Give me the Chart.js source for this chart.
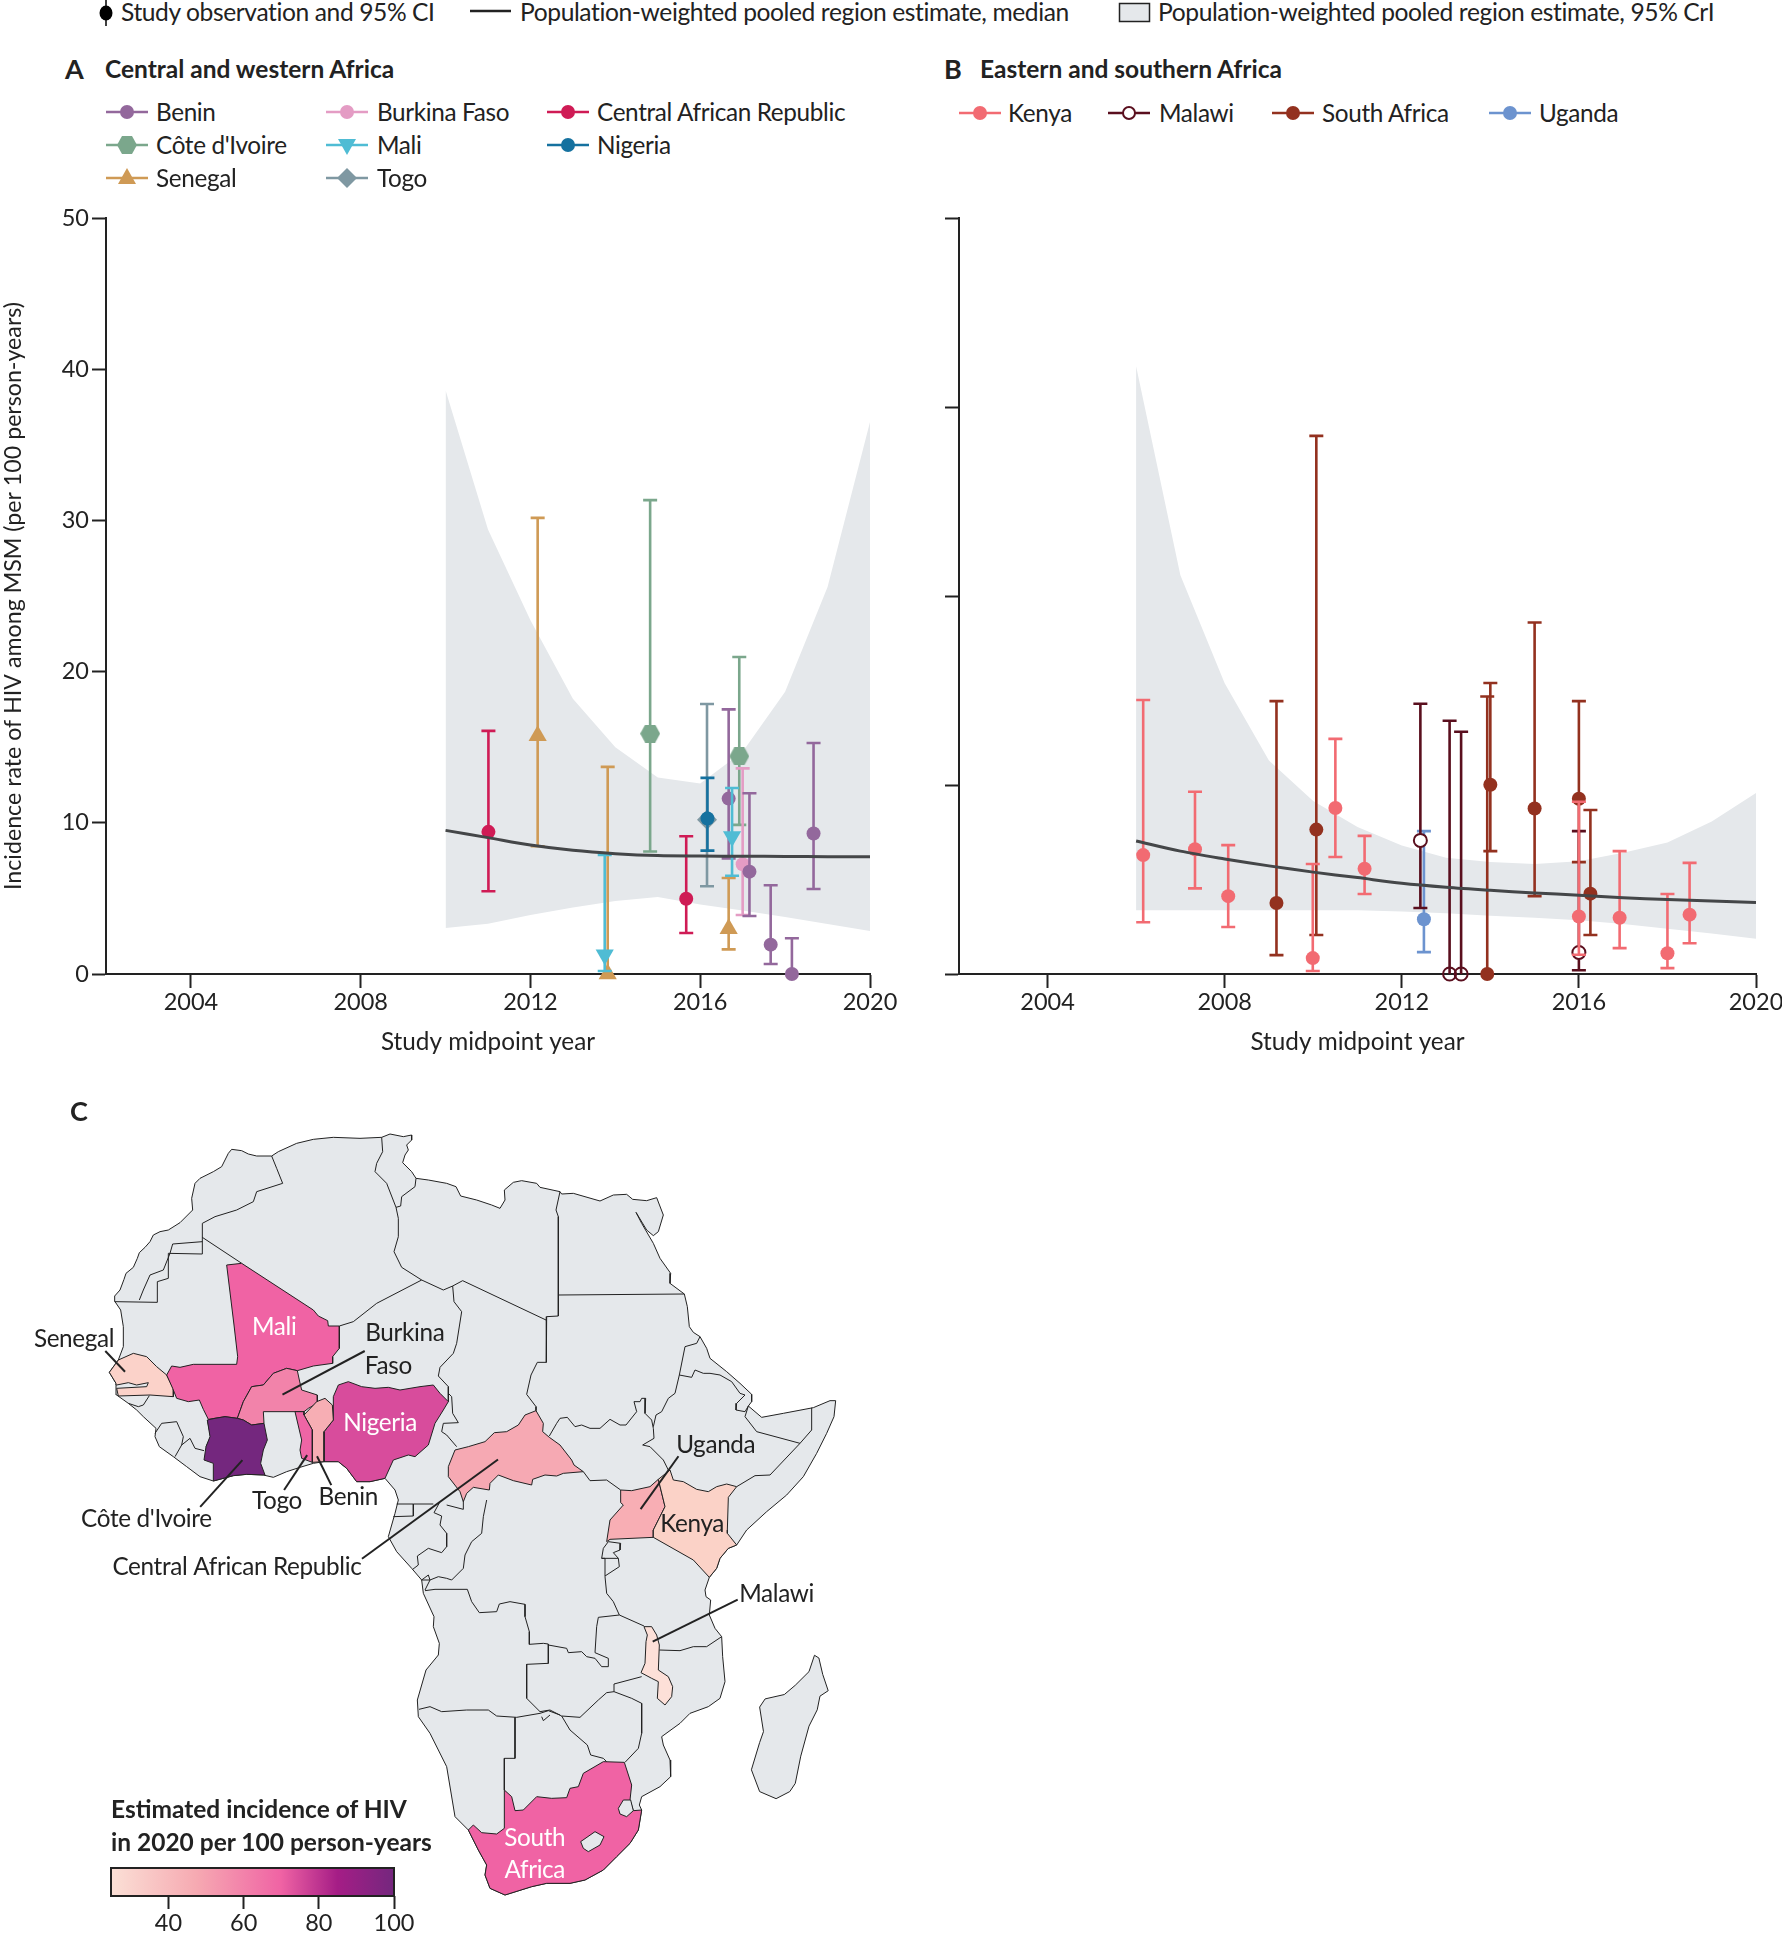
<!DOCTYPE html>
<html>
<head>
<meta charset="utf-8">
<title>HIV incidence among MSM in Africa</title>
<script src="https://cdn.jsdelivr.net/npm/chart.js@4"></script>
<style>
html, body { margin: 0; padding: 0; background: #fff; }
body { position: relative; width: 1782px; height: 1935px; overflow: hidden; font-family: Lato, sans-serif; color: #222; }
canvas { position: absolute; }
.t { position: absolute; white-space: nowrap; font-size: 24.3px; letter-spacing: -0.35px; transform: translateY(-50%); line-height: 1; }
.top { font-size: 24.6px; letter-spacing: -0.4px; }
.b { font-size: 24.5px; font-weight: 700; letter-spacing: 0; }
.p { font-size: 27px; font-weight: 700; letter-spacing: 0; }
svg { position: absolute; overflow: visible; }
</style>
</head>
<body>
<canvas id="chartA" width="910" height="867" style="left:0;top:190px"></canvas>
<canvas id="chartB" width="860" height="867" style="left:930px;top:190px"></canvas>
<canvas id="mapC" width="860" height="855" style="left:0;top:1080px"></canvas>
<canvas id="scaleC" width="340" height="72" style="left:80px;top:1865px"></canvas>
<script>
// rows are [midpoint year, incidence, CI low, CI high]
const benin = [[2016.67, 11.6, 7.65, 17.5], [2017.16, 6.77, 3.84, 11.95], [2017.66, 1.94, 0.66, 5.87], [2018.16, 0, 0, 2.36], [2018.67, 9.29, 5.62, 15.28]];
const burkinaFaso = [[2017.0, 7.26, 3.9, 13.6]];
const centralAfricanRepublic = [[2011.01, 9.4, 5.47, 16.08], [2015.67, 4.98, 2.71, 9.11]];
const coteDIvoire = [[2014.82, 15.9, 8.1, 31.34], [2016.92, 14.4, 9.86, 20.97]];
const mali = [[2013.75, 1.28, 0.2, 7.87], [2016.75, 9.1, 6.5, 12.3]];
const nigeria = [[2016.17, 10.28, 8.16, 12.97]];
const senegal = [[2012.17, 15.75, 8.45, 30.17], [2013.82, 0, 0, 13.7], [2016.67, 3.0, 1.63, 6.35]];
const togo = [[2016.16, 10.2, 5.8, 17.86]];

const kenya = [[2006.16, 6.29, 2.74, 14.5], [2007.33, 6.6, 4.53, 9.64], [2008.08, 4.12, 2.49, 6.82], [2009.99, 0.84, 0.16, 5.82], [2010.5, 8.78, 6.19, 12.44], [2011.16, 5.57, 4.23, 7.31], [2016, 3.04, 1.02, 9.11], [2016.92, 2.98, 1.37, 6.5], [2018.0, 1.1, 0.31, 4.23], [2018.5, 3.14, 1.63, 5.88]];
const malawi = [[2012.42, 7.07, 3.49, 14.3], [2013.08, 0, 0, 13.4], [2013.34, 0, 0, 12.82], [2016, 1.14, 0.2, 7.56]];
const southAfrica = [[2009.17, 3.76, 1.0, 14.44], [2010.07, 7.64, 2.06, 28.47], [2013.93, 0, 0, 14.68], [2014.0, 10.01, 6.5, 15.4], [2015.0, 8.76, 4.12, 18.6], [2016, 9.27, 5.92, 14.44], [2016.26, 4.25, 2.06, 8.68]];
const uganda = [[2012.5, 2.9, 1.16, 7.56]];

const yearsA = [2010, 2011, 2012, 2013, 2014, 2015, 2016, 2017, 2018, 2019, 2020];
const medianA = [9.5, 9.02, 8.53, 8.18, 7.96, 7.83, 7.8, 7.79, 7.77, 7.76, 7.76];
const lowerA = [3.04, 3.33, 3.9, 4.4, 4.83, 5.09, 4.6, 4.2, 3.77, 3.3, 2.85];
const upperA = [38.6, 29.4, 23.4, 18.2, 15.0, 13.0, 12.6, 14.7, 18.66, 25.6, 36.5];

const yearsB = [2006, 2007, 2008, 2009, 2010, 2011, 2012, 2013, 2014, 2015, 2016, 2017, 2018, 2019, 2020];
const medianB = [7.04, 6.5, 6.09, 5.72, 5.39, 5.1, 4.8, 4.59, 4.43, 4.29, 4.17, 4.04, 3.94, 3.86, 3.78];
const lowerB = [3.37, 3.37, 3.37, 3.37, 3.37, 3.37, 3.31, 3.21, 3.08, 2.98, 2.84, 2.65, 2.39, 2.14, 1.86];
const upperB = [32.15, 21.1, 15.38, 11.3, 9.15, 7.78, 6.8, 6.15, 5.92, 5.82, 5.96, 6.41, 6.96, 8.07, 9.58];

const xTicks = [2004, 2008, 2012, 2016, 2020];
const yTicksA = [0, 10, 20, 30, 40, 50];
const yTicksB = [0, 10, 20, 30, 40];
const scaleTicks = [40, 60, 80, 100];

// map outlines were traced from three overlapping views, each with its own origin
const shift = (dx, dy) => pts => pts.map(p => [p[0] + dx, p[1] + dy]);
const west = shift(300, 150);
const east = shift(1350, 150);
const south = shift(1020, 1260);
const whole = pts => pts.map(p => [p[0] * 2580 / 1568, p[1] * 2565 / 1568]);

const continent = [
  ...west([[45,515],[44,498],[60,480],[72,448],[78,430],[100,412],[112,385],[118,368],[135,352],[150,335],[160,315],[180,305],[205,300],[240,278],[278,240],[275,205],[285,160],[300,145],[340,125],[365,110],[385,70],[395,58],[425,62],[445,72],[470,78],[515,78],[535,65],[590,40],[640,28],[700,22],[780,25],[845,22],[870,12],[910,20],[935,15],[935,30],[920,45],[925,60],[915,75],[908,98],[935,125],[948,145],[985,150],[1040,160],[1068,170],[1082,198],[1130,210],[1175,225],[1200,235]]),
  ...east([[165,210],[163,180],[190,157],[215,152],[260,160],[270,172],[330,185],[335,192],[370,190],[450,213],[490,195],[530,193],[548,208],[590,212],[620,203],[640,255],[625,305],[610,317],[590,300],[558,247],[575,280],[610,340],[630,385],[662,430],[660,460],[703,492],[712,530],[718,590],[730,607],[750,620],[770,655],[780,685],[830,725],[870,760],[905,793],[905,815],[895,828],[935,862],[1000,850],[1090,833],[1140,812],[1157,812],[1152,860],[1130,910],[1100,970],[1060,1040],[1010,1095],[950,1145],[890,1200]]),
  ...south([[1190,135],[1165,145],[1140,175],[1130,205],[1108,232],[1095,270],[1098,290],[1112,300],[1108,345],[1125,385],[1145,410],[1148,470],[1155,545],[1140,595],[1105,620],[1050,640],[1020,670],[965,710],[970,735],[990,780],[992,830],[960,860],[905,890],[898,915],[905,930],[895,990],[870,1030],[830,1070],[790,1110],[735,1140],[690,1150],[620,1150],[575,1160],[495,1185],[450,1165],[435,1125],[440,1095],[415,1050],[385,990],[345,950],[320,800],[295,750],[270,700],[235,650],[232,600],[258,510],[295,465],[298,430],[280,380],[282,350],[250,280],[245,240],[215,205],[170,155],[145,110],[165,40],[175,0]]),
  ...west([[885,1080],[855,1045],[810,1055],[770,1055],[740,1015],[715,995],[672,995],[640,1000],[600,1012],[560,1025],[520,1042],[490,1035],[440,1033],[400,1037],[340,1053],[300,1040],[260,1010],[220,980],[178,950],[165,920],[168,895],[130,860],[110,840],[85,820],[50,795],[48,760],[28,727],[55,690],[70,650],[70,590],[62,540]])
];
const madagascar = whole([[1485,1055],[1493,1060],[1500,1090],[1510,1120],[1495,1130],[1490,1155],[1475,1185],[1460,1240],[1450,1290],[1440,1305],[1415,1318],[1385,1305],[1370,1265],[1385,1215],[1392,1195],[1385,1150],[1395,1135],[1430,1127],[1450,1110],[1475,1085]]);
const borders = [
  ...[
    [[45,515],[172,517],[172,455],[205,445],[205,370],[307,372],[307,280],[345,260],[410,240],[460,215],[470,185],[548,160],[530,115],[515,78]],
    [[307,335],[218,342],[210,370],[190,420],[150,435],[130,480],[118,510]],
    [[307,322],[425,400]],
    [[718,588],[760,575],[830,520],[965,450],[1030,480],[1058,468],[1088,452]],
    [[965,450],[905,412],[882,365],[895,320],[895,265],[888,232],[860,160],[825,125],[830,100],[848,65],[845,22]],
    [[888,232],[902,228],[905,200],[945,170],[948,145]],
    [[1058,468],[1062,515],[1085,545],[1070,640],[1060,670],[1020,712],[1015,738],[1045,770],[1045,815]],
    [[1045,790],[1055,800],[1058,850],[1075,878],[1030,880],[1025,905],[1040,915],[1070,950]],
    [[85,820],[115,830],[130,825],[148,797]],
    [[165,910],[185,880],[230,875],[250,920],[245,945],[225,980]],
    [[245,945],[270,925],[285,955],[312,962]],
    [[322,870],[332,920],[318,950]]
  ].map(west),
  ...[
    [[38,452],[288,570]],
    [[330,185],[318,240],[325,260],[325,558],[290,560],[288,570],[290,697],[262,697],[243,735],[230,793],[258,830],[258,842]],
    [[325,495],[703,492]],
    [[298,918],[320,880],[330,865],[352,862],[375,890],[395,885],[420,895],[450,895],[480,868],[510,885],[528,885],[560,845],[552,815],[570,815],[575,805],[587,805],[585,850],[605,870],[610,895],[612,925],[578,945],[600,950],[640,990],[655,1020]],
    [[610,890],[618,855],[635,845],[655,805],[675,790],[688,735],[705,650],[740,640],[750,620]],
    [[688,735],[725,742],[735,720],[760,730],[780,730],[810,735],[845,755],[870,790],[885,795],[860,820],[858,840],[885,845],[895,828]],
    [[895,828],[885,860],[920,905],[1050,940],[1085,900],[1085,833]],
    [[1050,940],[960,1035],[915,1037],[860,1070]],
    [[400,1025],[420,1052],[470,1050],[512,1080]],
    [[-10,1125],[40,1138],[40,1110]]
  ].map(east),
  ...[
    [[170,12],[220,12],[220,48],[160,50]],
    [[220,12],[280,12]],
    [[300,5],[282,38],[305,48],[300,75],[320,100],[320,140],[305,158],[265,145],[232,168],[235,195],[218,208]],
    [[440,0],[430,50],[425,100],[395,125],[375,165],[370,205],[335,240],[320,235],[295,230],[270,240],[245,240],[265,225],[270,240],[255,270]],
    [[255,272],[285,268],[382,268],[395,305],[418,338],[470,335],[478,312],[510,305],[555,313],[555,350],[568,395],[568,433],[610,430],[625,432],[625,490],[560,493],[560,595],[600,635]],
    [[625,435],[680,445],[685,458],[725,455],[740,470],[765,475],[785,500],[805,500],[805,475],[765,458],[770,380],[775,352],[838,345],[912,378]],
    [[838,345],[820,305],[800,280],[795,230],[795,175],[785,175],[790,145],[805,125]],
    [[805,125],[842,130],[840,150],[820,158],[835,175],[838,200],[795,228]],
    [[785,175],[835,175]],
    [[600,635],[630,630],[665,648],[720,652],[775,600],[800,578],[822,575],[822,552],[905,530]],
    [[822,575],[875,595],[905,610],[905,700],[895,745],[855,787]],
    [[665,648],[690,690],[742,735],[752,765],[790,775],[800,785]],
    [[237,628],[270,620],[305,635],[380,630],[445,630],[470,648],[530,652],[600,640],[625,632],[660,645]],
    [[525,652],[525,775],[493,775],[493,870]],
    [[958,450],[1020,452],[1060,440],[1100,440],[1145,410]],
    [[605,650],[610,662],[630,645]]
  ].map(south)
];
const maliShape = west([[380,405],[425,400],[640,540],[655,558],[683,572],[685,588],[718,588],[718,655],[698,680],[698,700],[640,708],[592,722],[560,715],[520,730],[490,765],[455,770],[430,815],[412,865],[375,860],[325,868],[310,838],[298,810],[265,815],[230,805],[218,775],[200,735],[215,708],[240,712],[280,703],[410,703],[413,680],[402,585]]);
const nigeriaShape = west([[700,800],[715,765],[745,755],[785,770],[825,775],[865,772],[900,780],[960,770],[1000,765],[1020,790],[1045,815],[1030,840],[1005,880],[985,945],[945,980],[925,975],[880,990],[855,1045],[810,1055],[770,1055],[740,1015],[715,995],[672,995],[672,905],[700,870]]);
const beninShape = west([[612,855],[650,815],[675,805],[697,825],[700,870],[672,905],[672,995],[637,997],[637,900]]);
const togoShape = west([[585,845],[612,845],[612,855],[637,900],[637,997],[605,985],[600,960],[605,930]]);
const burkinaShape = west([[412,865],[430,815],[455,770],[490,765],[520,730],[560,715],[592,722],[598,750],[605,780],[652,795],[652,820],[625,835],[612,845],[490,845],[492,880],[455,885],[430,870]]);
const ivoryShape = west([[322,870],[345,865],[375,860],[412,865],[430,870],[455,885],[492,880],[502,930],[490,960],[482,1000],[495,1035],[440,1033],[400,1037],[340,1053],[340,1000],[312,990],[318,950],[330,920]]);
const senegalShape = west([[28,727],[55,690],[100,670],[140,680],[170,710],[200,735],[220,775],[220,800],[150,795],[55,798],[50,775],[140,770],[145,758],[110,765],[85,758],[50,765],[48,760]]);
const carShape = east([[-5,1010],[15,960],[55,950],[105,935],[133,908],[170,905],[205,885],[225,855],[258,842],[280,880],[278,905],[298,922],[330,945],[365,990],[372,1005],[400,1025],[340,1030],[320,1038],[285,1035],[248,1048],[245,1065],[190,1052],[145,1035],[120,1060],[118,1080],[70,1072],[50,1090],[40,1115],[30,1085],[-5,1040]]);
const ugandaShape = east([[512,1080],[545,1082],[600,1070],[625,1048],[645,1130],[625,1170],[610,1200],[610,1222],[480,1228],[470,1235],[480,1170],[520,1125],[512,1118]]);
const kenyaShape = east([[625,1048],[660,1020],[670,1050],[700,1055],[740,1078],[775,1085],[800,1070],[830,1062],[860,1070],[835,1102],[832,1200],[832,1210],[860,1245],[835,1255],[810,1285],[800,1315],[778,1342],[730,1290],[610,1222],[610,1200],[625,1170],[645,1130]]);
const malawiShape = south([[912,380],[935,380],[950,405],[958,435],[955,510],[985,530],[998,560],[995,590],[975,615],[952,595],[955,545],[935,535],[903,518],[915,490],[918,425],[922,405]]);
const southAfricaShape = south([[493,870],[515,890],[525,932],[550,930],[590,890],[635,895],[680,893],[690,865],[715,860],[730,820],[790,785],[853,787],[875,855],[870,900],[880,932],[905,930],[895,990],[870,1030],[830,1070],[790,1110],[735,1140],[690,1150],[620,1150],[575,1160],[495,1185],[450,1165],[435,1125],[440,1095],[415,1050],[385,990],[400,975],[425,998],[470,1002],[493,985]]);
const lesotho = south([[722,1025],[765,995],[792,1010],[780,1035],[745,1055],[730,1045]]);
const eswatini = south([[835,925],[850,900],[872,900],[880,932],[860,950],[840,942]]);
const leaders = [[[192,497],[228,535]], [[665,497],[515,577]], [[518,752],[560,688]], [[604,743],[578,690]], [[365,783],[442,697]], [[660,878],[908,696]], [[1237,690],[1168,787]], [[1345,953],[1190,1030]]].map(whole);
const mapLabels = [
  ["Senegal", 135, 475, "#222"], ["Mali", 500, 453, "#fff"], ["Burkina", 738, 465, "#222"], ["Faso", 708, 525, "#222"],
  ["Nigeria", 693, 630, "#fff"], ["Uganda", 1305, 670, "#222"], ["Kenya", 1262, 815, "#222"], ["Togo", 505, 773, "#222"],
  ["Benin", 635, 765, "#222"], ["Côte d'Ivoire", 267, 806, "#222"], ["Central African Republic", 432, 893, "#222"],
  ["Malawi", 1416, 943, "#222"], ["South", 975, 1390, "#fff"], ["Africa", 975, 1450, "#fff"]
];

const INK = "#222";
const BAND = "#e5e8eb";
const MEDIAN = "#444648";

Chart.defaults.font.family = "Lato";
Chart.defaults.font.size = 23.5;
Chart.defaults.color = INK;
Chart.defaults.animation = false;

// hexagon marker for Cote d'Ivoire
function hexMarker(color) {
  const c = document.createElement("canvas");
  c.width = 20; c.height = 18;
  const g = c.getContext("2d");
  g.fillStyle = color;
  g.beginPath();
  [[0,9],[5,0],[15,0],[20,9],[15,18],[5,18]].forEach((p, i) => i ? g.lineTo(p[0], p[1]) : g.moveTo(p[0], p[1]));
  g.closePath();
  g.fill();
  return c;
}

const errorBars = {
  id: "errorBars",
  beforeDatasetDraw(chart, args) {
    const ds = chart.data.datasets[args.index];
    if (!ds.rows) return;
    const { x, y } = chart.scales;
    const ctx = chart.ctx;
    ctx.save();
    ctx.strokeStyle = ds.borderColor;
    ctx.lineWidth = 2.6;
    ds.rows.forEach(r => {
      const px = x.getPixelForValue(r[0]);
      const lo = y.getPixelForValue(r[2]);
      const hi = y.getPixelForValue(r[3]);
      ctx.beginPath();
      ctx.moveTo(px, lo); ctx.lineTo(px, hi);
      ctx.moveTo(px - 7, hi); ctx.lineTo(px + 7, hi);
      if (r[2] > 0) { ctx.moveTo(px - 7, lo); ctx.lineTo(px + 7, lo); }
      ctx.stroke();
    });
    ctx.restore();
  }
};

function studies(rows, color, style, order, radius) {
  return {
    data: rows.map(r => ({ x: r[0], y: r[1] })),
    rows, order,
    showLine: false,
    clip: false,
    borderColor: color,
    backgroundColor: color,
    pointStyle: style,
    pointRadius: radius || 7,
    pointBorderWidth: 0
  };
}

function bandSets(years, lower, upper, median) {
  const pts = a => a.map((v, i) => ({ x: years[i], y: v }));
  return [
    { data: pts(lower), order: 100, pointRadius: 0, borderWidth: 0, fill: false },
    { data: pts(upper), order: 99, pointRadius: 0, borderWidth: 0, fill: "-1", backgroundColor: BAND },
    { data: pts(median), order: 0, pointRadius: 0, borderColor: MEDIAN, borderWidth: 3, tension: 0.3, fill: false }
  ];
}

function panel(id, datasets, yMax, yTicks, showY, yWidth, right) {
  return new Chart(document.getElementById(id), {
    type: "line",
    data: { datasets },
    plugins: [errorBars],
    options: {
      responsive: false,
      layout: { padding: { top: 28, right } },
      plugins: { legend: { display: false }, tooltip: { enabled: false }, filler: { drawTime: "beforeDatasetsDraw" } },
      scales: {
        x: {
          type: "linear", min: 2002, max: 2020,
          afterBuildTicks: s => { s.ticks = xTicks.map(v => ({ value: v })); },
          afterFit: s => { s.height = 83; },
          ticks: { callback: v => String(v), autoSkip: false, maxRotation: 0, padding: 0 },
          grid: { drawOnChartArea: false, tickLength: 14, tickWidth: 2, tickColor: INK },
          border: { color: INK, width: 2 },
          title: { display: true, text: "Study midpoint year", padding: 0, font: { size: 24.3 } }
        },
        y: {
          min: 0, max: yMax,
          afterBuildTicks: s => { s.ticks = yTicks.map(v => ({ value: v })); },
          afterFit: s => { s.width = yWidth; },
          ticks: { display: showY, autoSkip: false, padding: 3 },
          grid: { drawOnChartArea: false, tickLength: 14, tickWidth: 2, tickColor: INK },
          border: { color: INK, width: 2 },
          title: { display: showY, text: "Incidence rate of HIV among MSM (per 100 person-years)", padding: 0, font: { size: 23.2 } }
        }
      }
    }
  });
}

const maliSet = studies(mali, "#4fbcd4", "triangle", 2, 10.5);
maliSet.pointRotation = 180;

panel("chartA", [
  ...bandSets(yearsA, lowerA, upperA, medianA),
  studies(nigeria, "#15719f", "circle", 1),
  maliSet,
  studies(benin, "#93689c", "circle", 3),
  studies(burkinaFaso, "#e49cc4", "circle", 4),
  studies(senegal, "#cf9a55", "triangle", 5, 10.5),
  studies(centralAfricanRepublic, "#cf1b55", "circle", 6),
  studies(coteDIvoire, "#7ba78c", hexMarker("#7ba78c"), 7),
  studies(togo, "#7f98a2", "rectRot", 8, 10)
], 50, yTicksA, true, 106, 40);

const malawiSet = studies(malawi, "#5a0f1e", "circle", 3, 6.5);
malawiSet.backgroundColor = malawi.map(r => r[1] === 0 ? "transparent" : "#fff");
malawiSet.pointBorderWidth = 2;

panel("chartB", [
  ...bandSets(yearsB, lowerB, upperB, medianB),
  studies(uganda, "#6c93cf", "circle", 4),
  malawiSet,
  studies(kenya, "#f26b72", "circle", 2),
  studies(southAfrica, "#93311f", "circle", 5)
], 40, yTicksB, false, 29, 34);

// map chart
function shape(points, color, order) {
  return { data: points.concat([points[0]]).map(p => ({ x: p[0], y: p[1] })), order, fill: "shape", backgroundColor: color, borderColor: INK, borderWidth: 1, pointRadius: 0 };
}
function path(points, order, width) {
  return { data: points.map(p => ({ x: p[0], y: p[1] })), order, fill: false, borderColor: INK, borderWidth: width, pointRadius: 0 };
}
const mapLabelPlugin = {
  id: "mapLabels",
  afterDatasetsDraw(chart) {
    const { x, y } = chart.scales;
    const ctx = chart.ctx;
    ctx.save();
    ctx.font = "24.3px Lato";
    ctx.letterSpacing = "-0.35px";
    ctx.textAlign = "center";
    ctx.textBaseline = "middle";
    mapLabels.forEach(l => {
      const p = whole([[l[1], l[2]]])[0];
      ctx.fillStyle = l[3];
      ctx.fillText(l[0], x.getPixelForValue(p[0]), y.getPixelForValue(p[1]));
    });
    ctx.restore();
  }
};
new Chart(document.getElementById("mapC"), {
  type: "line",
  data: {
    datasets: [
      ...leaders.map(l => path(l, 1, 2)),
      shape(lesotho, BAND, 3), shape(eswatini, BAND, 3),
      shape(togoShape, "#ee65a5", 4), shape(beninShape, "#f7aeb4", 4),
      shape(nigeriaShape, "#d84c9c", 4), shape(ivoryShape, "#74277e", 4), shape(burkinaShape, "#f283aa", 4),
      shape(maliShape, "#f063a4", 5), shape(senegalShape, "#fbd2c9", 5), shape(carShape, "#f6a9b3", 5),
      shape(kenyaShape, "#fbd2c7", 5), shape(ugandaShape, "#f8aeb4", 5), shape(malawiShape, "#fde0d8", 5),
      shape(southAfricaShape, "#f063a4", 5),
      ...borders.map(b => path(b, 8, 1)),
      shape(madagascar, BAND, 9), shape(continent, BAND, 9)
    ]
  },
  plugins: [mapLabelPlugin],
  options: {
    responsive: false,
    layout: { padding: 0 },
    plugins: { legend: { display: false }, tooltip: { enabled: false } },
    scales: {
      x: { type: "linear", display: false, min: 0, max: 2580 },
      y: { display: false, min: 0, max: 2565, reverse: true }
    }
  }
});

// colour scale
const scaleFill = {
  id: "scaleFill",
  beforeDatasetsDraw(chart) {
    const a = chart.chartArea, ctx = chart.ctx;
    const g = ctx.createLinearGradient(a.left, 0, a.right, 0);
    g.addColorStop(0, "#fbe0d6"); g.addColorStop(0.3, "#f6aab2"); g.addColorStop(0.6, "#f063a4");
    g.addColorStop(0.8, "#a51d86"); g.addColorStop(1, "#74277e");
    ctx.save();
    ctx.fillStyle = g;
    ctx.fillRect(a.left, a.top, a.right - a.left, a.bottom - a.top);
    ctx.strokeStyle = INK; ctx.lineWidth = 2;
    ctx.strokeRect(a.left, a.top, a.right - a.left, a.bottom - a.top);
    ctx.restore();
  }
};
new Chart(document.getElementById("scaleC"), {
  type: "line",
  data: { datasets: [{ data: [] }] },
  plugins: [scaleFill],
  options: {
    responsive: false,
    layout: { padding: { top: 3, right: 26 } },
    plugins: { legend: { display: false }, tooltip: { enabled: false } },
    scales: {
      x: {
        type: "linear", min: 24.7, max: 100,
        afterBuildTicks: s => { s.ticks = scaleTicks.map(v => ({ value: v })); },
        afterFit: s => { s.height = 41; },
        ticks: { autoSkip: false, maxRotation: 0, padding: 0 },
        grid: { drawOnChartArea: false, tickLength: 13, tickWidth: 2, tickColor: INK },
        border: { display: false }
      },
      y: { display: false, min: 0, max: 1, afterFit: s => { s.width = 31; } }
    }
  }
});

// page text and legends
function text(str, x, y, cls, color) {
  const el = document.createElement("div");
  el.className = "t " + (cls || "");
  el.textContent = str;
  el.style.left = x + "px";
  el.style.top = y + "px";
  if (color) el.style.color = color;
  document.body.appendChild(el);
}
function marker(kind, color) {
  if (kind === "circle") return `<circle cx="21" cy="0" r="7" fill="${color}"/>`;
  if (kind === "open") return `<circle cx="21" cy="0" r="6" fill="#fff" stroke="${color}" stroke-width="2"/>`;
  if (kind === "up") return `<path d="M21 -10L30 6L12 6Z" fill="${color}"/>`;
  if (kind === "down") return `<path d="M21 10L30 -6L12 -6Z" fill="${color}"/>`;
  if (kind === "diamond") return `<path d="M21 -10L31 0L21 10L11 0Z" fill="${color}"/>`;
  return `<path d="M11 0L16 -9L26 -9L31 0L26 9L16 9Z" fill="${color}"/>`;
}
function legendItem(name, color, kind, x, y, tx) {
  const svg = document.createElementNS("http://www.w3.org/2000/svg", "svg");
  svg.setAttribute("width", "42"); svg.setAttribute("height", "1");
  svg.style.left = x + "px"; svg.style.top = y + "px";
  svg.innerHTML = `<line x1="0" y1="0" x2="42" y2="0" stroke="${color}" stroke-width="2.5"/>` + marker(kind, color);
  document.body.appendChild(svg);
  text(name, tx, y);
}

text("Study observation and 95% CI", 121, 12, "top");
text("Population-weighted pooled region estimate, median", 520, 12, "top");
text("Population-weighted pooled region estimate, 95% CrI", 1158, 12, "top");
document.body.insertAdjacentHTML("beforeend",
  `<svg width="1" height="1" style="left:0;top:0">
     <line x1="106" y1="0" x2="106" y2="26" stroke="#000" stroke-width="1.5"/><ellipse cx="106" cy="13" rx="6.5" ry="7.5" fill="#000"/>
     <line x1="470" y1="11" x2="511" y2="11" stroke="#222" stroke-width="2.5"/>
     <rect x="1119.5" y="3.5" width="30" height="18" fill="${BAND}" stroke="#222" stroke-width="1.5"/>
   </svg>`);

text("A", 65, 68, "p");
text("Central and western Africa", 105, 69, "b");
text("B", 944, 68, "p");
text("Eastern and southern Africa", 980, 69, "b");
text("C", 70, 1110, "p");
text("Estimated incidence of HIV", 111, 1809, "b");
text("in 2020 per 100 person-years", 111, 1842, "b");

legendItem("Benin", "#93689c", "circle", 106, 112, 156);
legendItem("Burkina Faso", "#e49cc4", "circle", 326, 112, 377);
legendItem("Central African Republic", "#cf1b55", "circle", 547, 112, 597);
legendItem("Côte d'Ivoire", "#7ba78c", "hex", 106, 145, 156);
legendItem("Mali", "#4fbcd4", "down", 326, 145, 377);
legendItem("Nigeria", "#15719f", "circle", 547, 145, 597);
legendItem("Senegal", "#cf9a55", "up", 106, 178, 156);
legendItem("Togo", "#7f98a2", "diamond", 326, 178, 377);
legendItem("Kenya", "#f26b72", "circle", 959, 113, 1008);
legendItem("Malawi", "#5a0f1e", "open", 1108, 113, 1159);
legendItem("South Africa", "#93311f", "circle", 1272, 113, 1322);
legendItem("Uganda", "#6c93cf", "circle", 1489, 113, 1539);
</script>
</body>
</html>
